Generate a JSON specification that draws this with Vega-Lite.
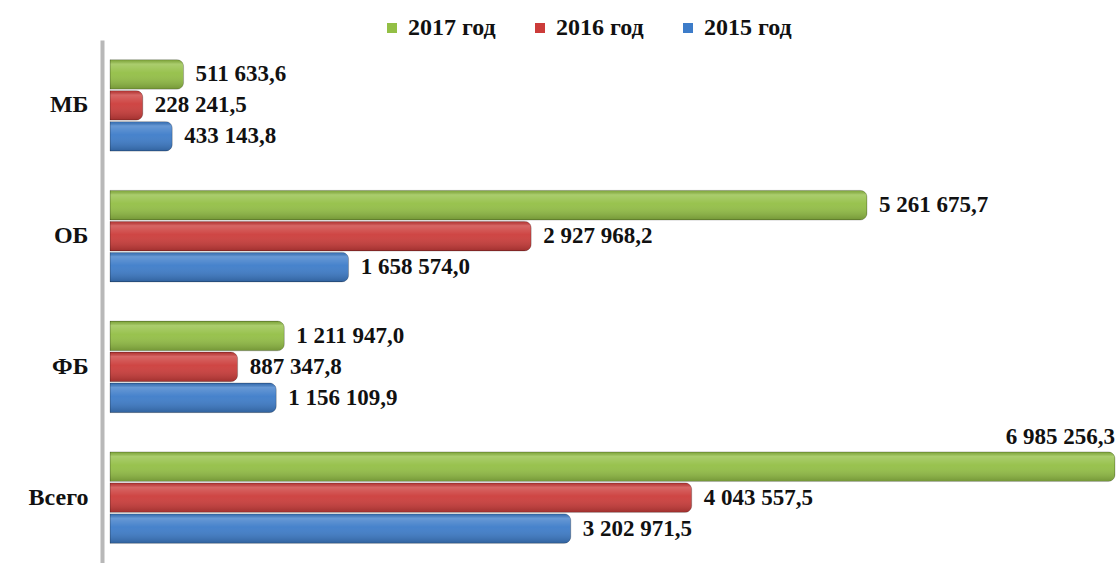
{
  "$schema": "https://vega.github.io/schema/vega-lite/v6.json",
  "width": 1005,
  "height": 523,
  "autosize": {"type": "none"},
  "padding": {"left": 110, "top": 40, "right": 2, "bottom": 0},
  "background": "white",
  "config": {
    "view": {"stroke": null},
    "locale": {"number": {"decimal": ",", "thousands": " ", "grouping": [3], "currency": ["", ""]}},
    "text": {"font": "Liberation Serif", "fontWeight": "bold", "fontSize": 23, "fill": "#111"}
  },
  "data": {"values": [
    {"cat": "МБ", "year": "2017 год", "value": 511633.6},
    {"cat": "МБ", "year": "2016 год", "value": 228241.5},
    {"cat": "МБ", "year": "2015 год", "value": 433143.8},
    {"cat": "ОБ", "year": "2017 год", "value": 5261675.7},
    {"cat": "ОБ", "year": "2016 год", "value": 2927968.2},
    {"cat": "ОБ", "year": "2015 год", "value": 1658574.0},
    {"cat": "ФБ", "year": "2017 год", "value": 1211947.0},
    {"cat": "ФБ", "year": "2016 год", "value": 887347.8},
    {"cat": "ФБ", "year": "2015 год", "value": 1156109.9},
    {"cat": "Всего", "year": "2017 год", "value": 6985256.3},
    {"cat": "Всего", "year": "2016 год", "value": 4043557.5},
    {"cat": "Всего", "year": "2015 год", "value": 3202971.5}
  ]},
  "encoding": {
    "y": {"field": "cat", "type": "nominal", "sort": ["МБ", "ОБ", "ФБ", "Всего"],
      "scale": {"paddingInner": 0.3, "paddingOuter": 0.15},
      "axis": {"title": null, "ticks": false, "domainColor": "#b8b8b8", "domainWidth": 4, "offset": 8,
        "labelFont": "Liberation Serif", "labelFontWeight": "bold", "labelFontSize": 24, "labelColor": "#111", "labelPadding": 14}},
    "yOffset": {"field": "year", "type": "nominal", "sort": ["2017 год", "2016 год", "2015 год"], "scale": {"paddingInner": 0.04}},
    "x": {"field": "value", "type": "quantitative", "scale": {"domain": [0, 6985256.3], "nice": false}, "axis": null}
  },
  "layer": [
    {
      "mark": {"type": "bar", "cornerRadiusEnd": 7},
      "encoding": {
        "color": {"field": "year", "type": "nominal",
          "scale": {"domain": ["2017 год", "2016 год", "2015 год"], "range": ["#93bf45", "#cc3c3a", "#3d7cc9"]},
          "legend": {"title": null, "orient": "none", "direction": "horizontal", "legendX": 270, "legendY": -24,
            "symbolType": "square", "symbolSize": 100, "symbolStrokeWidth": 0, "columnPadding": 32, "labelOffset": 4,
            "labelFont": "Liberation Serif", "labelFontWeight": "bold", "labelFontSize": 24, "labelColor": "#111"}}
      }
    },
    {
      "mark": {"type": "bar", "cornerRadiusEnd": 7, "stroke": "rgba(0,0,0,0.18)", "strokeWidth": 1,
        "fill": {"gradient": "linear", "x1": 0, "y1": 0, "x2": 0, "y2": 1,
          "stops": [
            {"offset": 0, "color": "rgba(0,0,0,0.12)"},
            {"offset": 0.15, "color": "rgba(255,255,255,0.22)"},
            {"offset": 0.45, "color": "rgba(255,255,255,0.05)"},
            {"offset": 1, "color": "rgba(0,0,0,0.22)"}
          ]}},
      "encoding": {}
    },
    {
      "transform": [{"filter": "datum.value < 6000000"}],
      "mark": {"type": "text", "align": "left", "baseline": "middle", "dx": 12},
      "encoding": {"text": {"field": "value", "type": "quantitative", "format": ",.1f"}}
    },
    {
      "transform": [{"filter": "datum.value >= 6000000"}],
      "mark": {"type": "text", "align": "right", "baseline": "bottom", "dy": -18, "dx": 0},
      "encoding": {"text": {"field": "value", "type": "quantitative", "format": ",.1f"}}
    }
  ]
}
